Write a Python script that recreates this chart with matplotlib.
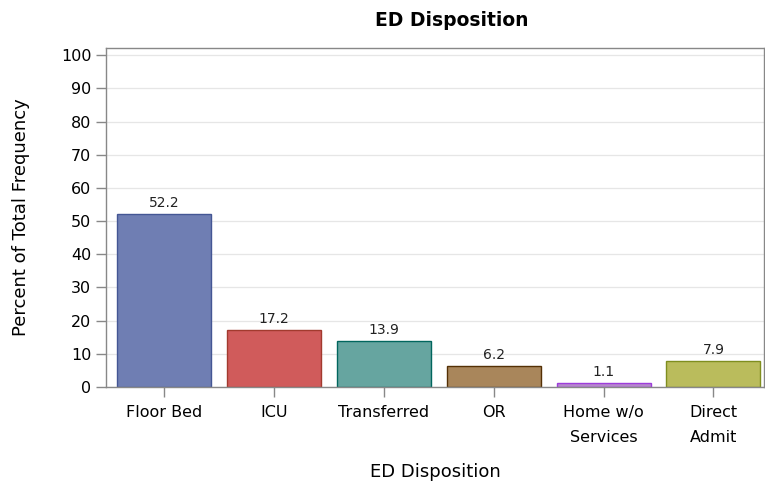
import matplotlib.pyplot as plt

# ED disposition percentages
categories = ["Floor Bed", "ICU", "Transferred", "OR", "Home w/o\nServices", "Direct\nAdmit"]
percents = [52.2, 17.2, 13.9, 6.2, 1.1, 7.9]

fill_colors = ["#6F7EB3", "#D05B5B", "#66A5A0", "#A9865B", "#B689CD", "#BABC5C"]
edge_colors = ["#445694", "#A23A2E", "#01665E", "#543005", "#9D3CDB", "#7F8E1F"]

plt.rcParams["font.family"] = "DejaVu Sans"

fig = plt.figure(figsize=(7.65, 4.91), dpi=100)
ax = fig.add_axes([106 / 765, 1 - 387 / 491, 658 / 765, 339 / 491])

x = list(range(len(categories)))
ax.grid(axis="y", color="#E6E6E6", linewidth=0.9, zorder=0)
bars = ax.bar(x, percents, width=0.855, color=fill_colors, edgecolor=edge_colors,
              linewidth=1.0, zorder=2)

for xi, v in zip(x, percents):
    ax.annotate(f"{v:.1f}", (xi, v), xytext=(0, 3), textcoords="offset points",
                ha="center", va="bottom", fontsize=10, color="#222222")

ax.set_xlim(-0.527, 5.46)
ax.set_ylim(0, 102.2)
ax.set_yticks(range(0, 101, 10))
ax.set_xticks(x)
ax.set_xticklabels(categories, fontsize=11.5, linespacing=1.85)
ax.tick_params(axis="y", labelsize=11.5, color="#888888", length=7, width=1)
ax.tick_params(axis="x", color="#888888", length=7, width=1, pad=6)

for side in ax.spines.values():
    side.set_color("#888888")
    side.set_linewidth(1)

ax.set_xlabel("ED Disposition", fontsize=13, labelpad=13)
ax.set_ylabel("Percent of Total Frequency", fontsize=13, labelpad=22)
fig.text(452 / 765, 1 - 20 / 491, "ED Disposition", fontsize=13.5, fontweight="bold",
         ha="center", va="center")

fig.savefig("out.png", dpi=100)
